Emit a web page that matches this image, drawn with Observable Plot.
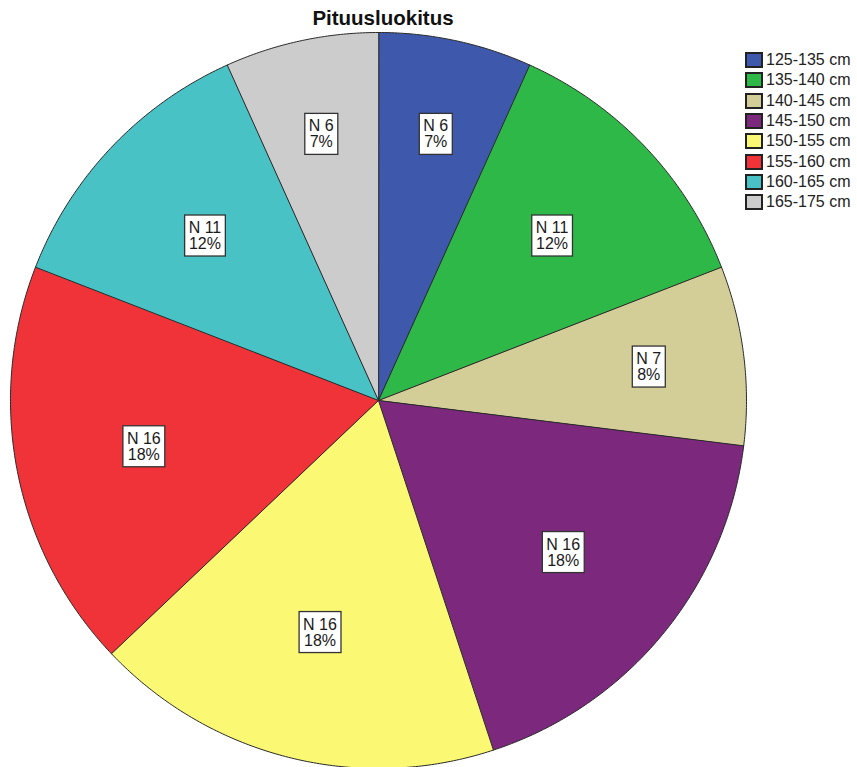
<!DOCTYPE html>
<html>
<head>
<meta charset="utf-8">
<script src="https://cdn.jsdelivr.net/npm/d3@7"></script>
<script src="https://cdn.jsdelivr.net/npm/@observablehq/plot@0.6"></script>
<style>
  html, body { margin: 0; padding: 0; background: #fff; }
  #wrap { position: relative; width: 857px; height: 767px; overflow: hidden; font-family: "Liberation Sans", Arial, sans-serif; }
  #title { position: absolute; left: 0; top: 7px; width: 766px; text-align: center; font-size: 20.5px; font-weight: bold; line-height: 22px; color: #111; }
  #legend { position: absolute; left: 746px; top: 50px; }
  #legend [class$="-swatch"] { height: 20.3px; margin: 0; padding: 0; display: flex; align-items: center; }
  #legend svg { margin-right: 4px !important; }
  #legend svg rect { stroke: #222; stroke-width: 2px; }
  #chart { position: absolute; left: 0; top: 0; }
</style>
</head>
<body>
<div id="wrap">
  <div id="chart"></div>
  <div id="title">Pituusluokitus</div>
  <div id="legend"></div>
</div>
<script>
const categories = ["125-135 cm", "135-140 cm", "140-145 cm", "145-150 cm", "150-155 cm", "155-160 cm", "160-165 cm", "165-175 cm"];
const counts = [6, 11, 7, 16, 16, 16, 11, 6];
const colors = ["#3E58AC", "#2EB848", "#D3CE97", "#7C287D", "#FBF873", "#EF3338", "#48C2C5", "#CCCCCC"];

const total = d3.sum(counts);
const slicePoints = [];
const labels = [];
let acc = 0;
categories.forEach((cat, i) => {
  const a0 = acc / total * 2 * Math.PI;
  acc += counts[i];
  const a1 = acc / total * 2 * Math.PI;
  const deg = (a1 - a0) * 180 / Math.PI;
  slicePoints.push({cat, x: 0, y: 0});
  const n = Math.max(2, Math.ceil(deg * 2));
  for (let k = 0; k <= n; k++) {
    const a = a0 + (a1 - a0) * k / n;
    slicePoints.push({cat, x: Math.sin(a), y: Math.cos(a)});
  }
  const mid = (a0 + a1) / 2;
  const lr = deg >= 40 ? 0.65 : 0.74;
  labels.push({
    cat,
    x: lr * Math.sin(mid),
    y: lr * Math.cos(mid),
    text: `N ${counts[i]}\n${Math.round(counts[i] / total * 100)}%`
  });
});

const plot = Plot.plot({
  width: 857,
  height: 767,
  margin: 0,
  x: {domain: [-1, 1], range: [10, 746], axis: null},
  y: {domain: [-1, 1], range: [768, 32], axis: null},
  color: {domain: categories, range: colors},
  style: {fontFamily: "'Liberation Sans', Arial, sans-serif", background: "#fff"},
  marks: [
    Plot.line(slicePoints, {x: "x", y: "y", z: "cat", fill: "cat", stroke: "#2a2a2a", strokeWidth: 1, curve: "linear-closed"}),
    Plot.text(labels, {x: "x", y: "y", text: "text", fontSize: 16, lineHeight: 1.0, fill: "#1a1a1a", textAnchor: "middle"})
  ]
});

document.getElementById("chart").append(plot);

// white framed boxes behind the slice labels
const svgns = "http://www.w3.org/2000/svg";
plot.querySelectorAll('g[aria-label="text"] text').forEach(t => {
  const b = t.getBBox();
  const r = document.createElementNS(svgns, "rect");
  r.setAttribute("x", b.x - 4);
  r.setAttribute("y", b.y - 4);
  r.setAttribute("width", b.width + 8);
  r.setAttribute("height", b.height + 8);
  r.setAttribute("fill", "#fff");
  r.setAttribute("stroke", "#333");
  r.setAttribute("stroke-width", 1.3);
  const tr = t.getAttribute("transform");
  if (tr) r.setAttribute("transform", tr);
  t.parentNode.insertBefore(r, t);
});

const leg = plot.legend("color", {
  legend: "swatches",
  columns: 1,
  swatchWidth: 16,
  swatchHeight: 14,
  style: {fontSize: "16px", fontFamily: "'Liberation Sans', Arial, sans-serif", color: "#222"}
});
document.getElementById("legend").append(leg);
</script>
</body>
</html>
